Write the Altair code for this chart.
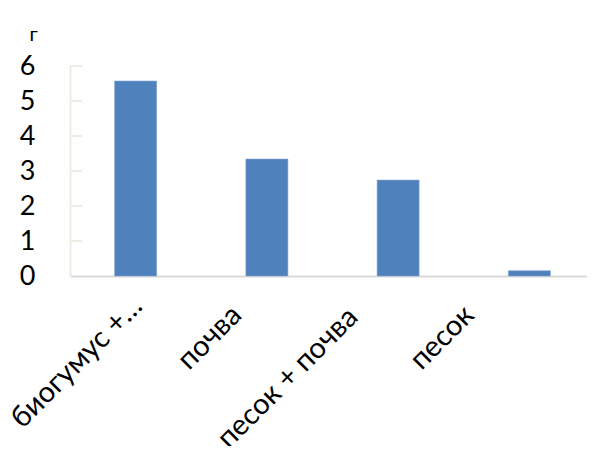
import altair as alt
import pandas as pd

categories = ["биогумус +…", "почва", "песок + почва", "песок"]
values = [5.57, 3.34, 2.74, 0.15]
y_ticks = [0, 1, 2, 3, 4, 5, 6]
# label placement offsets (style only), per category, as in the reference
label_offsets = [2, -30, -45, -60]
label_paddings = [25, 34, 36, 34]

df = pd.DataFrame({"cat": categories, "val": values})
ticks_df = pd.DataFrame({"t": y_ticks[1:]})

FONT = "Lato"


def cond(vals):
    conds = [{"test": f"datum.value === '{c}'", "value": v} for c, v in zip(categories[1:], vals[1:])]
    return {"condition": conds, "value": vals[0]}


y_scale = alt.Scale(domain=[0, 6], nice=False)
y_axis = alt.Axis(values=y_ticks, title="г", titleAngle=0, titleX=-37, titleY=-22,
                  titleAlign="center", titleFontSize=20, titleFont=FONT,
                  titleFontWeight="normal", titleColor="#000000",
                  labelFontSize=27, labelFont=FONT, labelColor="#000000",
                  labelPadding=35, ticks=False, grid=False, labelOverlap=False,
                  labelBaseline="middle",
                  domainColor="#EEECE1", domainWidth=2)

bars = alt.Chart(df).mark_bar(color="#4F81BD", stroke="#7FA3D3", strokeWidth=0.6).encode(
    x=alt.X("cat:N", sort=categories,
            scale=alt.Scale(paddingInner=0.68, paddingOuter=0.34),
            axis=alt.Axis(title=None, labelAngle=-45, labelAlign="right", labelBaseline="middle",
                          labelFontSize=29, labelFont=FONT, labelColor="#000000",
                          labelPadding=cond(label_paddings), labelOffset=cond(label_offsets),
                          ticks=False, labelOverlap=False,
                          domainColor="#D9D9D9", domainWidth=2, labelLimit=400)),
    y=alt.Y("val:Q", scale=y_scale, axis=y_axis),
)

tick_rules = alt.Chart(ticks_df).mark_rule(color="#EEECE1", strokeWidth=2).encode(
    y=alt.Y("t:Q", scale=y_scale, axis=y_axis),
    x=alt.value(0),
    x2=alt.value(12),
)

chart = alt.layer(bars, tick_rules).properties(
    width=525,
    height=210,
    padding={"left": 62, "top": 58, "right": -8, "bottom": 170},
    autosize=alt.AutoSizeParams(type="none"),
    background="white",
).configure_view(stroke=None)

chart.save("out.html", embed_options={"renderer": "svg", "actions": False})
